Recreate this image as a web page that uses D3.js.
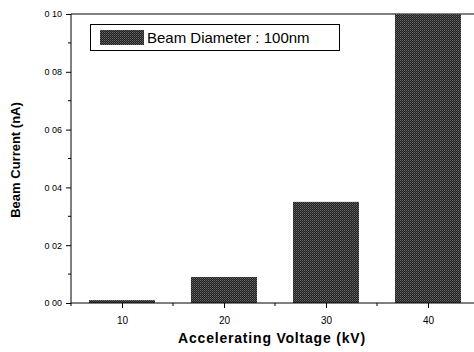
<!DOCTYPE html>
<html>
<head>
<meta charset="utf-8">
<script src="https://cdn.jsdelivr.net/npm/d3@7"></script>
<style>
  body { margin: 0; background: #fff; }
  svg { display: block; font-family: Arial, "Liberation Sans", sans-serif; }
</style>
</head>
<body>
<svg id="chart"></svg>
<script>
const width = 474;
const height = 352;

const voltages = [10, 20, 30, 40];
const currents = [0.001, 0.009, 0.035, 0.100];
const yTicks = [0, 0.02, 0.04, 0.06, 0.08, 0.10];
const yMinor = [0.01, 0.03, 0.05, 0.07, 0.09];
const xTicks = [10, 20, 30, 40];
const xMinor = [5, 15, 25, 35];
const legendLabel = "Beam Diameter : 100nm";

const margin = { left: 71, top: 14, right: 0, bottom: 49 };

const svg = d3.select("#chart")
  .attr("width", width)
  .attr("height", height);

// noisy grey fill like the scanned bars
const defs = svg.append("defs");
const pat = defs.append("pattern")
  .attr("id", "grain")
  .attr("width", 2).attr("height", 2)
  .attr("patternUnits", "userSpaceOnUse");
pat.append("rect").attr("width", 2).attr("height", 2).attr("fill", "#222");
pat.append("rect").attr("width", 1).attr("height", 1).attr("fill", "#666");
pat.append("rect").attr("x", 1).attr("y", 1).attr("width", 1).attr("height", 1).attr("fill", "#4a4a4a");

const x = d3.scaleLinear()
  .domain([5, 45])
  .range([margin.left, margin.left + 408]);

const y = d3.scaleLinear()
  .domain([0, 0.10])
  .range([303, margin.top]);

const barW = 66;

// frame
svg.append("line")
  .attr("x1", margin.left).attr("x2", width)
  .attr("y1", y(0.10)).attr("y2", y(0.10))
  .attr("stroke", "#000").attr("stroke-width", 1);

// bars
svg.append("g")
  .selectAll("rect")
  .data(voltages)
  .enter().append("rect")
  .attr("x", (d) => x(d) - barW / 2)
  .attr("width", barW)
  .attr("y", (d, i) => y(currents[i]))
  .attr("height", (d, i) => Math.max(2, y(0) - y(currents[i])))
  .attr("fill", "url(#grain)");

// y axis
const yAxis = svg.append("g")
  .attr("transform", `translate(${margin.left},0)`)
  .call(d3.axisLeft(y).tickValues(yTicks).tickSize(5).tickPadding(4)
    .tickFormat((d) => d3.format(".2f")(d).replace(".", " ")));
yAxis.select(".domain").attr("d", `M0,${y(0)}V${y(0.10)}`);
yAxis.selectAll("text").attr("font-size", 9).attr("fill", "#000");

svg.append("g")
  .attr("transform", `translate(${margin.left},0)`)
  .selectAll("line")
  .data(yMinor)
  .enter().append("line")
  .attr("x1", -3).attr("x2", 0)
  .attr("y1", (d) => y(d)).attr("y2", (d) => y(d))
  .attr("stroke", "#000");

// x axis
const xAxis = svg.append("g")
  .attr("transform", `translate(0,${y(0)})`)
  .call(d3.axisBottom(x).tickValues(xTicks).tickSize(5).tickPadding(9));
xAxis.select(".domain").attr("d", `M${margin.left},0H${width}`);
xAxis.selectAll("text").attr("font-size", 10).attr("fill", "#000");

svg.append("g")
  .attr("transform", `translate(0,${y(0)})`)
  .selectAll("line")
  .data(xMinor)
  .enter().append("line")
  .attr("x1", (d) => x(d)).attr("x2", (d) => x(d))
  .attr("y1", 0).attr("y2", 3)
  .attr("stroke", "#000");

// axis titles
svg.append("text")
  .attr("x", 272).attr("y", 343)
  .attr("text-anchor", "middle")
  .attr("font-size", 14).attr("font-weight", "bold")
  .attr("letter-spacing", 0.8)
  .text("Accelerating Voltage (kV)");

svg.append("text")
  .attr("transform", `translate(20,160) rotate(-90)`)
  .attr("text-anchor", "middle")
  .attr("font-size", 13).attr("font-weight", "bold")
  .text("Beam Current (nA)");

// legend
const legend = svg.append("g");
legend.append("rect")
  .attr("x", 90.5).attr("y", 24.5)
  .attr("width", 249).attr("height", 26)
  .attr("fill", "#fff").attr("stroke", "#000");
legend.append("rect")
  .attr("x", 100).attr("y", 30)
  .attr("width", 44).attr("height", 15)
  .attr("fill", "url(#grain)");
legend.append("text")
  .attr("x", 147).attr("y", 43)
  .attr("font-size", 15)
  .text(legendLabel);
</script>
</body>
</html>
